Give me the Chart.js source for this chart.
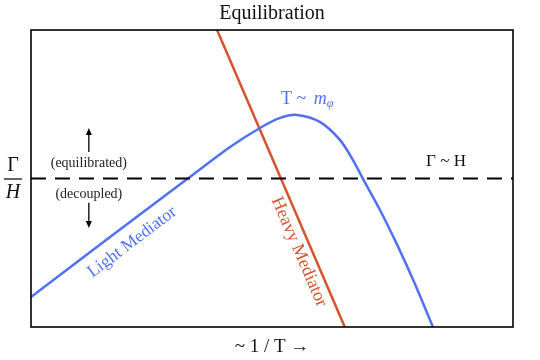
<!DOCTYPE html>
<html>
<head>
<meta charset="utf-8">
<script src="https://cdn.jsdelivr.net/npm/chart.js@4/dist/chart.umd.min.js"></script>
<style>
  html, body { margin: 0; padding: 0; background: #fff; }
  #wrap { width: 540px; height: 360px; }
</style>
</head>
<body>
<div id="wrap"><canvas id="chart"></canvas></div>
<script>
// courbe bleue (light mediator)
const lightX = [0, 1.64, 3.24, 4.13, 4.75, 5.17, 5.52, 6.0, 6.41, 6.68, 6.89, 7.24, 7.59, 7.95, 8.34];
const lightY = [1.01, 3.03, 4.98, 6.06, 6.70, 7.04, 7.14, 6.90, 6.30, 5.62, 4.98, 3.94, 2.79, 1.51, 0];
// droite rouge (heavy mediator)
const heavyX = [3.86, 6.51];
const heavyY = [10, 0];
// ligne Gamma ~ H
const eqX = [0, 10];
const eqY = [5, 5];

const BLUE = '#5171ef';
const RED = '#d6532d';
const SERIF = '"Liberation Serif", "DejaVu Serif", serif';

const toPts = (xs, ys) => xs.map((x, i) => ({ x: x, y: ys[i] }));

// textes et fleches, places en coordonnees des donnees
const notes = [
  { x: 8.61, y: 5.56, text: 'Γ ~ H', size: 17, color: '#111', angle: 0 },
  { x: 1.20, y: 5.52, text: '(equilibrated)', size: 14, color: '#222', angle: 0 },
  { x: 1.20, y: 4.48, text: '(decoupled)', size: 14, color: '#222', angle: 0 },
  { x: 2.10, y: 2.86, text: 'Light Mediator', size: 17.5, color: BLUE, angle: -37 },
  { x: 5.56, y: 2.53, text: 'Heavy Mediator', size: 18, color: RED, angle: 66.7 }
];
const arrows = [
  { x: 1.20, y0: 5.89, y1: 6.70 },
  { x: 1.20, y0: 4.18, y1: 3.33 }
];

const decorPlugin = {
  id: 'decor',
  afterDatasetsDraw(chart) {
    const ctx = chart.ctx;
    const a = chart.chartArea;
    const sx = chart.scales.x, sy = chart.scales.y;
    ctx.save();
    // cadre
    ctx.strokeStyle = '#000';
    ctx.lineWidth = 1.6;
    ctx.strokeRect(a.left, a.top, a.right - a.left, a.bottom - a.top);

    ctx.textAlign = 'center';
    ctx.textBaseline = 'middle';
    notes.forEach(n => {
      ctx.save();
      ctx.translate(sx.getPixelForValue(n.x), sy.getPixelForValue(n.y));
      ctx.rotate(n.angle * Math.PI / 180);
      ctx.fillStyle = n.color;
      ctx.font = n.size + 'px ' + SERIF;
      ctx.fillText(n.text, 0, 0);
      ctx.restore();
    });

    // T ~ m_phi
    const tx = sx.getPixelForValue(5.73), ty = sy.getPixelForValue(7.68);
    ctx.fillStyle = BLUE;
    ctx.textAlign = 'left';
    const p1 = 'T ~ ';
    ctx.font = '18px ' + SERIF;
    const w1 = ctx.measureText(p1).width + 3;
    ctx.font = 'italic 18px ' + SERIF;
    const w2 = ctx.measureText('m').width;
    ctx.font = 'italic 12px ' + SERIF;
    const w3 = ctx.measureText('φ').width;
    let x0 = tx - (w1 + w2 + w3) / 2;
    ctx.font = '18px ' + SERIF;
    ctx.fillText('T ~', x0, ty);
    ctx.font = 'italic 18px ' + SERIF;
    ctx.fillText('m', x0 + w1, ty);
    ctx.font = 'italic 12px ' + SERIF;
    ctx.fillText('φ', x0 + w1 + w2, ty + 5);

    // fleches
    ctx.strokeStyle = '#000';
    ctx.fillStyle = '#000';
    ctx.lineWidth = 1.3;
    arrows.forEach(ar => {
      const px = sx.getPixelForValue(ar.x);
      const p0 = sy.getPixelForValue(ar.y0), p1y = sy.getPixelForValue(ar.y1);
      const dir = p1y < p0 ? -1 : 1;
      ctx.beginPath();
      ctx.moveTo(px, p0);
      ctx.lineTo(px, p1y - dir * 5);
      ctx.stroke();
      ctx.beginPath();
      ctx.moveTo(px, p1y);
      ctx.lineTo(px - 3, p1y - dir * 7);
      ctx.lineTo(px + 3, p1y - dir * 7);
      ctx.closePath();
      ctx.fill();
    });

    // titre et axes
    const cx = (a.left + a.right) / 2;
    ctx.textAlign = 'center';
    ctx.fillStyle = '#111';
    ctx.font = '20px ' + SERIF;
    ctx.fillText('Equilibration', cx, a.top - 16);
    ctx.font = '19px ' + SERIF;
    ctx.fillText('~ 1 / T →', cx, a.bottom + 20);

    // Gamma / H
    const fy = sy.getPixelForValue(5);
    ctx.font = '20px ' + SERIF;
    ctx.fillText('Γ', 13, fy - 13);
    ctx.font = 'italic 20px ' + SERIF;
    ctx.fillText('H', 13, fy + 14);
    ctx.lineWidth = 1.2;
    ctx.beginPath();
    ctx.moveTo(4, fy + 0.5);
    ctx.lineTo(22, fy + 0.5);
    ctx.stroke();
    ctx.restore();
  }
};

new Chart(document.getElementById('chart'), {
  type: 'scatter',
  data: {
    datasets: [
      {
        data: toPts(eqX, eqY),
        showLine: true,
        borderColor: '#000',
        borderWidth: 1.8,
        borderDash: [15, 9],
        pointRadius: 0
      },
      {
        data: toPts(lightX, lightY),
        showLine: true,
        borderColor: BLUE,
        borderWidth: 2.5,
        tension: 0.3,
        pointRadius: 0
      },
      {
        data: toPts(heavyX, heavyY),
        showLine: true,
        borderColor: RED,
        borderWidth: 2.5,
        pointRadius: 0
      }
    ]
  },
  options: {
    responsive: true,
    maintainAspectRatio: false,
    animation: false,
    layout: { padding: { left: 31, right: 27, top: 30, bottom: 33 } },
    scales: {
      x: { type: 'linear', min: 0, max: 10, display: false },
      y: { type: 'linear', min: 0, max: 10, display: false }
    },
    plugins: {
      legend: { display: false },
      tooltip: { enabled: false },
      title: { display: false }
    }
  },
  plugins: [decorPlugin]
});
</script>
</body>
</html>
